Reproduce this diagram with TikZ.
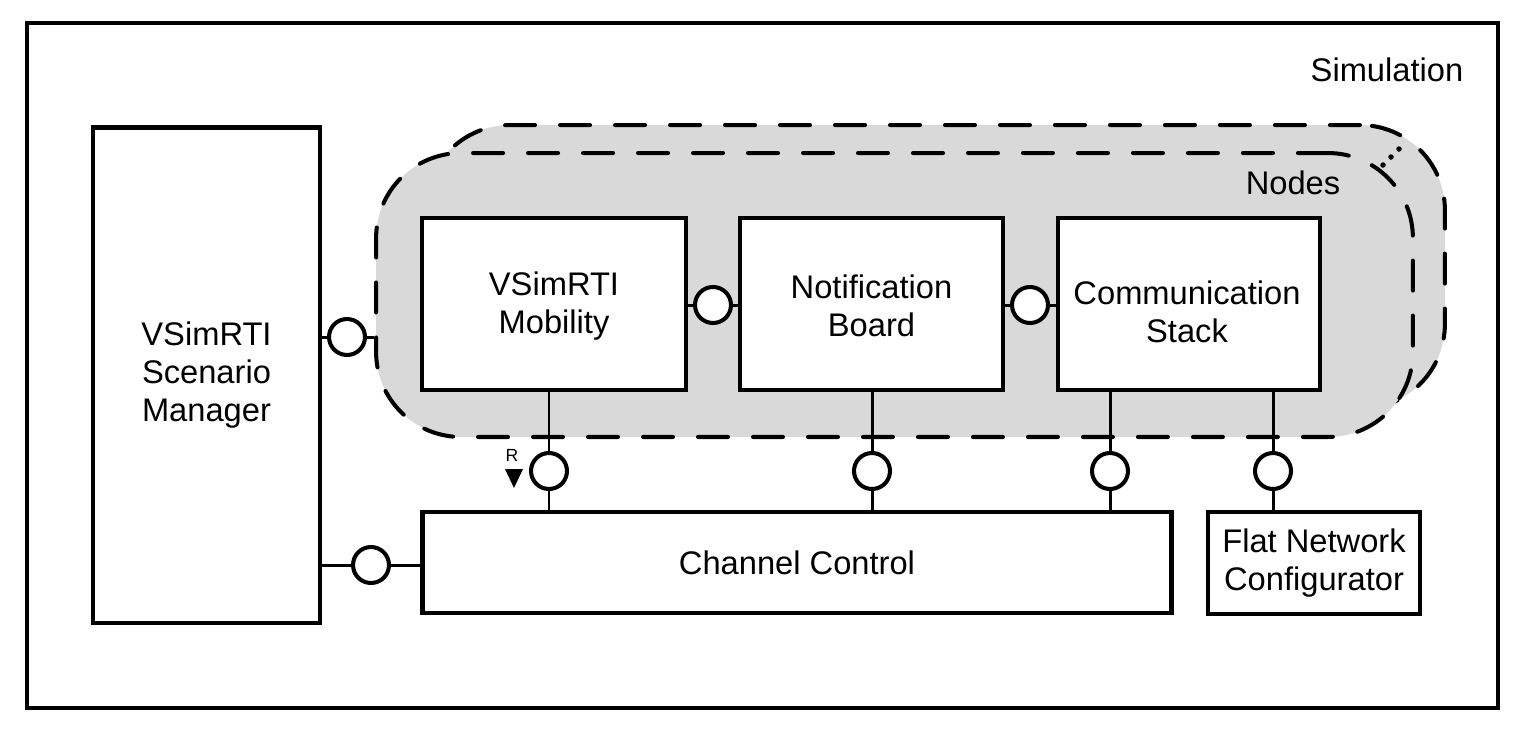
\documentclass[tikz,border=0pt]{standalone}
\usepackage{fontspec}
\setmainfont{Liberation Sans}
\definecolor{nodegray}{HTML}{D9D9D9}
\tikzset{
	comp/.style={draw, line width=2.8pt, fill=white, align=center, inner sep=0pt,
		font=\fontsize{18.6}{21.6}\selectfont},
	iface/.style={circle, draw, line width=2.3pt, fill=white, minimum size=0.72cm, inner sep=0pt},
	wire/.style={line width=1.7pt},
	region/.style={draw, fill=nodegray, rounded corners=1.7cm, line width=2.3pt, line cap=round,
		dash pattern=on 0.6cm off 0.5cm, minimum height=5.68cm},
	txt/.style={font=\fontsize{18.6}{21.6}\selectfont}
}
\begin{document}
\begin{tikzpicture}[x=0.02cm, y=-0.02cm]
	\useasboundingbox (0,0) rectangle (1532,735);

	% frame
	\draw[line width=2.3pt] (27,23) rectangle (1498,708);
	\node[txt] (sim) at (1387,70) {Simulation};

	% nodes region (stacked)
	\node[region, minimum width=20.4cm] (nodesback) at (935,267) {};
	\node[region, minimum width=20.74cm] (nodes) at (894.5,295) {};
	\foreach \p in {(1383,165),(1391,157),(1399,149)}
		\fill \p circle (0.055cm);
	\node[txt] (nodeslabel) at (1293,183) {Nodes};

	% components
	\node[comp, minimum width=4.54cm, minimum height=9.92cm] (scen) at (206.5,375) {VSimRTI\\Scenario\\Manager};
	\node[comp, minimum width=5.28cm, minimum height=3.44cm] (mob) at (554,304) {};
	\node[txt, align=center] (moblabel) at (554,306) {VSimRTI\\Mobility};
	\node[comp, minimum width=5.26cm, minimum height=3.44cm] (notif) at (871.5,304) {};
	\node[txt, align=center] (notiflabel) at (871.5,306) {Notification\\Board};
	\node[comp, minimum width=5.24cm, minimum height=3.44cm] (comm) at (1189,304) {};
	\node[txt, align=center] (commlabel) at (1187,312) {Communication\\Stack};
	\node[comp, minimum width=15cm, minimum height=2.02cm] (chan) at (797,562.5) {Channel Control};
	\node[comp, minimum width=4.24cm, minimum height=2.04cm] (flat) at (1314,563) {Flat Network\\Configurator};

	% interfaces
	\node[iface] (iscen) at (347,337) {};
	\node[iface] (imob) at (713,305) {};
	\node[iface] (inotif) at (1030,305) {};
	\node[iface] (ichmob) at (549,471) {};
	\node[iface] (ichnotif) at (872,471) {};
	\node[iface] (ichcomm) at (1110,471) {};
	\node[iface] (iflat) at (1273,471) {};
	\node[iface] (ichan) at (371,565) {};

	% wires
	\draw[wire] (iscen) -- (scen.east |- iscen);
	\draw[wire] (iscen) -- (nodes.west |- iscen);
	\draw[wire] (imob) -- (mob.east |- imob);
	\draw[wire] (imob) -- (notif.west |- imob);
	\draw[wire] (inotif) -- (notif.east |- inotif);
	\draw[wire] (inotif) -- (comm.west |- inotif);
	\draw[wire] (ichmob) -- (ichmob |- mob.south);
	\draw[wire] (ichmob) -- (ichmob |- chan.north);
	\draw[wire] (ichnotif) -- (ichnotif |- notif.south);
	\draw[wire] (ichnotif) -- (ichnotif |- chan.north);
	\draw[wire] (ichcomm) -- (ichcomm |- comm.south);
	\draw[wire] (ichcomm) -- (ichcomm |- chan.north);
	\draw[wire] (iflat) -- (iflat |- comm.south);
	\draw[wire] (iflat) -- (iflat |- flat.north);
	\draw[wire] (ichan) -- (scen.east |- ichan);
	\draw[wire] (ichan) -- (chan.west |- ichan);

	% R marker
	\node[font=\fontsize{10}{12}\selectfont] (rmark) at (512,455) {R};
	\fill (505,469) -- (523,469) -- (514,488) -- cycle;
\end{tikzpicture}
\end{document}
